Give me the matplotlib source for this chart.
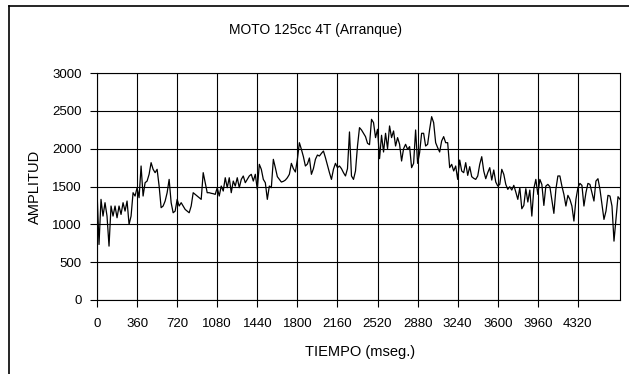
import matplotlib
matplotlib.use("Agg")
import matplotlib.pyplot as plt
import numpy as np

plt.rcParams['font.family'] = ['Liberation Sans', 'DejaVu Sans']

title = "MOTO 125cc 4T (Arranque)"
x_label = "TIEMPO (mseg.)"
y_label = "AMPLITUD"

step_ms = 18
tick_labels = [0, 360, 720, 1080, 1440, 1800, 2160, 2520, 2880, 3240, 3600, 3960, 4320]
y_ticks = [0, 500, 1000, 1500, 2000, 2500, 3000]

# amplitude samples, one every 18 ms
amp_0_1549 = [1440, 734, 1330, 1109, 1286, 1109, 712, 1242, 1109, 1242,
              1087, 1242, 1131, 1286, 1175, 1308, 999, 1109, 1418, 1374,
              1484, 1352, 1771, 1374, 1550, 1572, 1661, 1815, 1727, 1683,
              1727, 1506, 1220, 1242, 1308, 1418, 1594, 1286, 1153, 1175,
              1330, 1242, 1286, 1242, 1197, 1175, 1153, 1242, 1418, 1396,
              1374, 1352, 1330, 1683, 1550, 1418, 1418, 1410, 1405, 1396,
              1484, 1374, 1506, 1440, 1616, 1484, 1616, 1418, 1572, 1506,
              1616, 1484, 1594, 1639, 1550, 1594, 1639, 1661, 1572, 1661,
              1462, 1793, 1727, 1594, 1550, 1330, 1506]
amp_1566_3078 = [1484, 1859, 1749, 1630, 1594, 1559, 1568, 1585, 1616, 1661,
                 1806, 1736, 1692, 1859, 2079, 1991, 1894, 1771, 1797, 1877,
                 1661, 1736, 1859, 1916, 1903, 1938, 1969, 1881, 1780, 1683,
                 1594, 1727, 1806, 1749, 1771, 1736, 1683, 1639, 1736, 2221,
                 1639, 1594, 1705, 2035, 2278, 2247, 2203, 2159, 2071, 2053,
                 2388, 2344, 2146, 2256, 1868, 2177, 1956, 2203, 2000, 2300,
                 2146, 2234, 2035, 2146, 2058, 1837, 2000, 2058, 1991, 2027,
                 1749, 1806, 2247, 1806, 1947, 2203, 2203, 2035, 2058, 2256,
                 2423, 2344, 2079, 2013, 1956]
amp_3096_4698 = [2102, 2159, 2079, 2079, 1749, 1793, 1705, 1771, 1594, 1850,
                 1705, 1683, 1815, 1647, 1762, 1630, 1608, 1594, 1639, 1793,
                 1894, 1705, 1603, 1683, 1749, 1585, 1718, 1559, 1506, 1528,
                 1727, 1661, 1528, 1462, 1497, 1453, 1515, 1427, 1330, 1484,
                 1206, 1250, 1471, 1295, 1453, 1109, 1471, 1594, 1396, 1594,
                 1528, 1250, 1506, 1528, 1497, 1321, 1145, 1462, 1639, 1639,
                 1506, 1396, 1242, 1383, 1330, 1242, 1043, 1330, 1484, 1541,
                 1515, 1242, 1418, 1541, 1528, 1418, 1308, 1572, 1603, 1462,
                 1264, 1065, 1175, 1383, 1374, 1242, 778, 1065, 1365, 1330]

amplitude = np.array(amp_0_1549 + amp_1566_3078 + amp_3096_4698)
tiempo = np.arange(len(amplitude)) * step_ms

W, H = 629, 374
fig = plt.figure(figsize=(W / 100, H / 100), dpi=100)
ax = fig.add_axes([97 / W, 74 / H, 523 / W, 227 / H])

ax.plot(tiempo, amplitude, color='black', linewidth=0.9)

ax.set_xlim(0, tiempo[-1])
ax.set_ylim(0, 3000)
ax.set_xticks(tick_labels)
ax.set_xticklabels([str(t) for t in tick_labels], fontsize=9.5)
ax.set_yticks(y_ticks)
ax.set_yticklabels([str(v) for v in y_ticks], fontsize=9.5)
ax.grid(True, color='black', linewidth=0.8)
ax.set_axisbelow(True)
ax.tick_params(axis='x', direction='out', length=5, width=0.8, color='black', pad=8)
ax.tick_params(axis='y', direction='out', length=5, width=0.8, color='black', pad=6)
for s in ax.spines.values():
    s.set_color('black')
    s.set_linewidth(0.8)

fig.text(316 / W, 1 - 30 / H, title, ha='center', va='center', fontsize=10)
fig.text(360 / W, 1 - 352 / H, x_label, ha='center', va='center', fontsize=10.5)
fig.text(35 / W, 1 - 187 / H, y_label, ha='center', va='center', rotation=90, fontsize=10.5)

# outer chart border
fig.add_artist(plt.Line2D([9 / W, 9 / W], [0, 1 - 6 / H], transform=fig.transFigure, color='black', linewidth=1.2))
fig.add_artist(plt.Line2D([9 / W, 1], [1 - 6 / H, 1 - 6 / H], transform=fig.transFigure, color='black', linewidth=1.2))

fig.savefig("out.png", dpi=100)
